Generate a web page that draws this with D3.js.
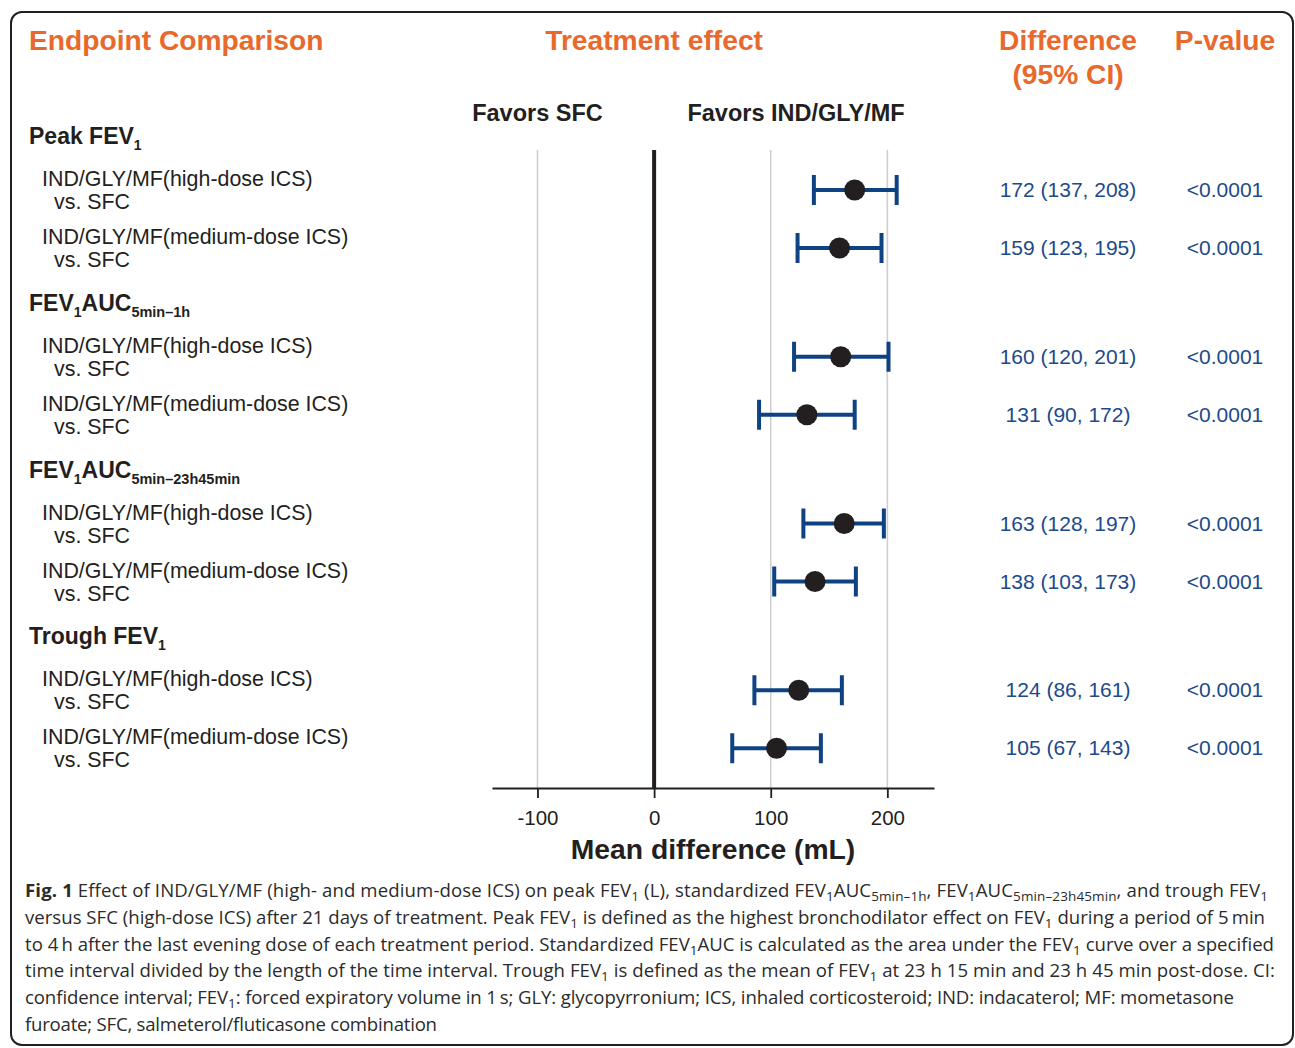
<!DOCTYPE html>
<html>
<head>
<meta charset="utf-8">
<script src="https://cdn.jsdelivr.net/npm/d3@7"></script>
<style>
  html, body { margin: 0; padding: 0; background: #fff; }
  svg { display: block; }
</style>
</head>
<body>
<svg id="chart" width="1295" height="1048"></svg>
<script>
// ---------------- DATA ----------------
const groupNames = ["Peak FEV1", "FEV1AUC5min-1h", "FEV1AUC5min-23h45min", "Trough FEV1"];
const groupLabelParts = [
  [{t: "Peak FEV"}, {t: "1", sub: true}],
  [{t: "FEV"}, {t: "1", sub: true}, {t: "AUC"}, {t: "5min\u20131h", sub: true, small: true}],
  [{t: "FEV"}, {t: "1", sub: true}, {t: "AUC"}, {t: "5min\u201323h45min", sub: true, small: true}],
  [{t: "Trough FEV"}, {t: "1", sub: true}]
];
const comparisons = ["IND/GLY/MF(high-dose ICS)", "IND/GLY/MF(medium-dose ICS)"];
const comparisonSuffix = "vs. SFC";
const meanDiff = [172, 159, 160, 131, 163, 138, 124, 105];
const ciLower  = [137, 123, 120, 90, 128, 103, 86, 67];
const ciUpper  = [208, 195, 201, 172, 197, 173, 161, 143];
const pValues  = ["<0.0001", "<0.0001", "<0.0001", "<0.0001", "<0.0001", "<0.0001", "<0.0001", "<0.0001"];
const xTicks = [-100, 0, 100, 200];
const xTickLabels = ["-100", "0", "100", "200"];
const xDomain = [-139, 240];

const captionLines = [
  [{t: "Fig. 1", bold: true}, {t: " Effect of IND/GLY/MF (high- and medium-dose ICS) on peak FEV"}, {t: "1", sub: true}, {t: " (L), standardized FEV"}, {t: "1", sub: true}, {t: "AUC"}, {t: "5min\u20131h", sub: true}, {t: ", FEV"}, {t: "1", sub: true}, {t: "AUC"}, {t: "5min\u201323h45min", sub: true}, {t: ", and trough FEV"}, {t: "1", sub: true}],
  [{t: "versus SFC (high-dose ICS) after 21 days of treatment. Peak FEV"}, {t: "1", sub: true}, {t: " is defined as the highest bronchodilator effect on FEV"}, {t: "1", sub: true}, {t: " during a period of 5\u2009min"}],
  [{t: "to 4\u2009h after the last evening dose of each treatment period. Standardized FEV"}, {t: "1", sub: true}, {t: "AUC is calculated as the area under the FEV"}, {t: "1", sub: true}, {t: " curve over a specified"}],
  [{t: "time interval divided by the length of the time interval. Trough FEV"}, {t: "1", sub: true}, {t: " is defined as the mean of FEV"}, {t: "1", sub: true}, {t: " at 23 h 15 min and 23 h 45 min post-dose. CI:"}],
  [{t: "confidence interval; FEV"}, {t: "1", sub: true}, {t: ": forced expiratory volume in 1\u2009s; GLY: glycopyrronium; ICS, inhaled corticosteroid; IND: indacaterol; MF: mometasone"}],
  [{t: "furoate; SFC, salmeterol/fluticasone combination"}]
];
// right edge of each caption line in the reference layout
const captionLineEnds = [1268, 1265, 1274, 1275, 1234, 437];

// ---------------- SETUP ----------------
const ORANGE = "#E8692B";
const BLUE = "#0E4282";
const TEXTBLUE = "#1D4A8A";
const DARK = "#231F20";
const SANS = "'Liberation Sans', Arial, Helvetica, sans-serif";
const CAPFONT = "'Open Sans', 'Noto Sans', sans-serif";

const svg = d3.select("#chart");

svg.append("rect")
  .attr("x", 11).attr("y", 12).attr("width", 1282).attr("height", 1033)
  .attr("rx", 11).attr("ry", 11)
  .attr("fill", "#fff").attr("stroke", "#231F20").attr("stroke-width", 2);

const x = d3.scaleLinear().domain(xDomain).range([492, 934]);
const groupScale = d3.scaleBand().domain(groupNames).range([112, 779]);

const rows = [];
groupNames.forEach((g, gi) => {
  comparisons.forEach((c, ci) => {
    const i = gi * comparisons.length + ci;
    rows.push({group: g, comp: c, ci: ci, mean: meanDiff[i], lo: ciLower[i], hi: ciUpper[i], p: pValues[i]});
  });
});
const rowY = d => groupScale(d.group) + 78 + d.ci * 58;

function richText(sel, parts, opts) {
  parts.forEach((p, k) => {
    const ts = sel.append("tspan").text(p.t);
    if (p.sub) ts.attr("font-size", p.small ? opts.smallSize : opts.subSize);
    const prevSub = k > 0 && parts[k - 1].sub;
    const shift = (p.sub ? opts.subShift : 0) - (prevSub ? opts.subShift : 0);
    if (shift !== 0) ts.attr("dy", shift);
    if (p.bold) ts.attr("font-weight", "bold");
  });
}

// ---------------- HEADERS ----------------
const hdr = svg.append("g").attr("font-family", SANS).attr("font-weight", "bold")
  .attr("font-size", 28.2).attr("fill", ORANGE);
hdr.append("text").attr("x", 29).attr("y", 50).text("Endpoint Comparison");
hdr.append("text").attr("x", x(0)).attr("y", 50).attr("text-anchor", "middle").text("Treatment effect");
hdr.append("text").attr("x", 1068).attr("y", 50).attr("text-anchor", "middle").text("Difference");
hdr.append("text").attr("x", 1068).attr("y", 84).attr("text-anchor", "middle").text("(95% CI)");
hdr.append("text").attr("x", 1225).attr("y", 50).attr("text-anchor", "middle").text("P-value");

const fav = svg.append("g").attr("font-family", SANS).attr("font-weight", "bold")
  .attr("font-size", 23.5).attr("fill", DARK).attr("text-anchor", "middle");
fav.append("text").attr("x", x(-100)).attr("y", 121).text("Favors SFC");
fav.append("text").attr("x", 796).attr("y", 121).text("Favors IND/GLY/MF");

// ---------------- GRID / AXIS ----------------
const plotTop = 150, plotBottom = 788;
svg.append("g").selectAll("line").data(xTicks.filter(t => t !== 0)).join("line")
  .attr("x1", d => x(d)).attr("x2", d => x(d))
  .attr("y1", plotTop).attr("y2", plotBottom)
  .attr("stroke", "#CFCFCF").attr("stroke-width", 1.6);

const axisG = svg.append("g").attr("transform", `translate(0,${plotBottom})`)
  .call(d3.axisBottom(x).tickValues(xTicks).tickFormat((d, i) => xTickLabels[i])
    .tickSize(10).tickSizeOuter(0).tickPadding(12));
axisG.select(".domain").attr("stroke", DARK).attr("stroke-width", 1.8);
axisG.selectAll(".tick line").attr("stroke", DARK).attr("stroke-width", 1.8);
axisG.selectAll(".tick text").attr("font-family", SANS).attr("font-size", 20.5).attr("fill", DARK);

svg.append("line")
  .attr("x1", x(0)).attr("x2", x(0)).attr("y1", plotTop).attr("y2", plotBottom)
  .attr("stroke", DARK).attr("stroke-width", 4);

svg.append("text").attr("x", 713).attr("y", 859).attr("text-anchor", "middle")
  .attr("font-family", SANS).attr("font-weight", "bold").attr("font-size", 28.3).attr("fill", DARK)
  .text("Mean difference (mL)");

// ---------------- LEFT LABELS ----------------
const gl = svg.append("g").attr("font-family", SANS).attr("fill", DARK);
groupNames.forEach((g, gi) => {
  const t = gl.append("text").attr("x", 29).attr("y", groupScale(g) + 32)
    .attr("font-weight", "bold").attr("font-size", 23);
  richText(t, groupLabelParts[gi], {subShift: 6, subSize: 14, smallSize: 14.5});
});
gl.selectAll("text.row1").data(rows).join("text").attr("class", "row1")
  .attr("x", 42).attr("y", d => rowY(d) - 4).attr("font-size", 21.4).text(d => d.comp);
gl.selectAll("text.row2").data(rows).join("text").attr("class", "row2")
  .attr("x", 54).attr("y", d => rowY(d) + 19).attr("font-size", 21.4).text(comparisonSuffix);

// ---------------- ERROR BARS ----------------
const bars = svg.append("g");
bars.selectAll("line.ci").data(rows).join("line").attr("class", "ci")
  .attr("x1", d => x(d.lo)).attr("x2", d => x(d.hi))
  .attr("y1", rowY).attr("y2", rowY)
  .attr("stroke", BLUE).attr("stroke-width", 4);
bars.selectAll("line.capl").data(rows).join("line").attr("class", "capl")
  .attr("x1", d => x(d.lo)).attr("x2", d => x(d.lo))
  .attr("y1", d => rowY(d) - 15).attr("y2", d => rowY(d) + 15)
  .attr("stroke", BLUE).attr("stroke-width", 4);
bars.selectAll("line.caph").data(rows).join("line").attr("class", "caph")
  .attr("x1", d => x(d.hi)).attr("x2", d => x(d.hi))
  .attr("y1", d => rowY(d) - 15).attr("y2", d => rowY(d) + 15)
  .attr("stroke", BLUE).attr("stroke-width", 4);
bars.selectAll("circle").data(rows).join("circle")
  .attr("cx", d => x(d.mean)).attr("cy", rowY).attr("r", 10.5).attr("fill", DARK);

// ---------------- RIGHT COLUMNS ----------------
const rc = svg.append("g").attr("font-family", SANS).attr("font-size", 21).attr("fill", TEXTBLUE)
  .attr("text-anchor", "middle");
rc.selectAll("text.diff").data(rows).join("text").attr("class", "diff")
  .attr("x", 1068).attr("y", d => rowY(d) + 7)
  .text(d => `${d.mean} (${d.lo}, ${d.hi})`);
rc.selectAll("text.p").data(rows).join("text").attr("class", "p")
  .attr("x", 1225).attr("y", d => rowY(d) + 7).text(d => d.p);

// ---------------- CAPTION ----------------
const cap = svg.append("g").attr("font-family", CAPFONT).attr("font-size", 18.6).attr("fill", "#2B2B2B");
captionLines.forEach((parts, li) => {
  const t = cap.append("text").attr("x", 25).attr("y", 897 + li * 26.8);
  richText(t, parts, {subShift: 4, subSize: 13.5, smallSize: 13.5});
  t.attr("textLength", captionLineEnds[li] - 25).attr("lengthAdjust", "spacing");
});
</script>
</body>
</html>
